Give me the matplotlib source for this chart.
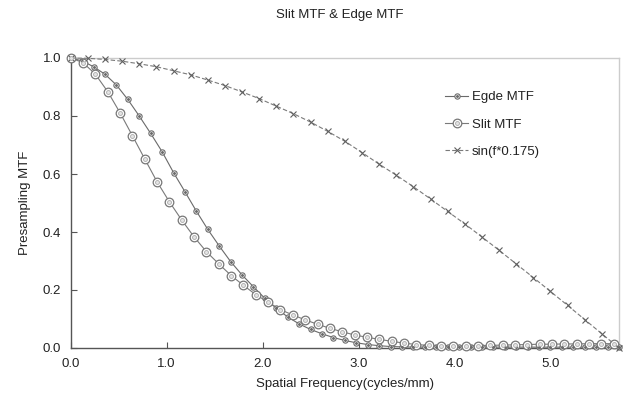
import numpy as np
import matplotlib
matplotlib.use("Agg")
import matplotlib.pyplot as plt
from matplotlib.legend_handler import HandlerTuple

plt.rcParams['font.family'] = ['Liberation Sans', 'DejaVu Sans']

# ---- data ----
f_max = 5.714
edge_f = np.linspace(0, f_max, 49)
edge_mtf = [1.000, 0.990, 0.970, 0.944, 0.907, 0.857, 0.800, 0.740, 0.677, 0.605,
            0.539, 0.472, 0.409, 0.352, 0.298, 0.252, 0.211, 0.171, 0.137, 0.107,
            0.083, 0.064, 0.049, 0.036, 0.026, 0.018, 0.012, 0.008, 0.005, 0.004,
            0.003, 0.003, 0.003, 0.003, 0.003, 0.003, 0.003, 0.003, 0.003, 0.003,
            0.003, 0.003, 0.003, 0.003, 0.003, 0.003, 0.003, 0.003, 0.003]

slit_f = np.arange(45) * 0.1286
slit_mtf = [1.000, 0.984, 0.944, 0.884, 0.811, 0.732, 0.652, 0.573, 0.504, 0.441,
            0.383, 0.332, 0.290, 0.250, 0.216, 0.184, 0.158, 0.132, 0.114, 0.097,
            0.082, 0.068, 0.056, 0.045, 0.037, 0.030, 0.023, 0.017, 0.012, 0.009,
            0.007, 0.006, 0.007, 0.008, 0.009, 0.010, 0.011, 0.012, 0.013, 0.013,
            0.014, 0.014, 0.015, 0.015, 0.015]

sinc_f = np.linspace(0, f_max, 33)
sinc_mtf = [1.000, 0.999, 0.995, 0.989, 0.980, 0.970, 0.956, 0.942, 0.924, 0.905,
            0.883, 0.860, 0.834, 0.808, 0.779, 0.747, 0.713, 0.674, 0.634, 0.596,
            0.556, 0.514, 0.471, 0.428, 0.383, 0.337, 0.290, 0.243, 0.195, 0.147,
            0.098, 0.049, 0.000]

x_ticks = [0.0, 1.0, 2.0, 3.0, 4.0, 5.0]
y_ticks = [0.0, 0.2, 0.4, 0.6, 0.8, 1.0]

title = "Slit MTF & Edge MTF"
xlabel = "Spatial Frequency(cycles/mm)"
ylabel = "Presampling MTF"
labels = ["Egde MTF", "Slit MTF", "sin(f*0.175)"]

# ---- figure ----
W, H = 627, 403
fig = plt.figure(figsize=(W / 100, H / 100), dpi=100)
ax = fig.add_axes([70.7 / W, 1 - 348 / H, (619 - 70.7) / W, (348 - 58) / H])

gray = '#7a7a7a'
l_edge, = ax.plot(edge_f, edge_mtf, color='#6a6a6a', lw=0.8, marker='o', ms=3.8,
                  mfc='white', mec='#6a6a6a', mew=0.8, clip_on=False, zorder=3)
d_edge, = ax.plot(edge_f, edge_mtf, ls='none', marker='o', ms=1.1, mfc='#6a6a6a',
                  mec='#6a6a6a', clip_on=False, zorder=4)
l_slit, = ax.plot(slit_f, slit_mtf, color=gray, lw=0.8, marker='o', ms=6.2,
                  mfc='white', mec='#777777', mew=0.9, clip_on=False, zorder=3)
d_slit, = ax.plot(slit_f, slit_mtf, ls='none', marker='o', ms=2.8, mfc='#e4e4e4',
                  mec='#aaaaaa', mew=0.6, clip_on=False, zorder=4)
l_sinc, = ax.plot(sinc_f, sinc_mtf, color=gray, lw=0.8, ls=(0, (4, 2)), marker='x', ms=4.5,
                  mec='#606060', mew=0.8, clip_on=False, zorder=3)

ax.set_xlim(0, f_max)
ax.set_ylim(0, 1.0)
ax.set_xticks(x_ticks)
ax.set_yticks(y_ticks)
ax.set_xticklabels([f"{v:.1f}" for v in x_ticks])
ax.set_yticklabels([f"{v:.1f}" for v in y_ticks])
ax.tick_params(direction='in', length=4, width=0.8, colors='#555555',
               labelcolor='#222222', labelsize=9.5, pad=7)

for s in ['left', 'bottom']:
    ax.spines[s].set_color('#555555')
    ax.spines[s].set_linewidth(1.0)
for s in ['top', 'right']:
    ax.spines[s].set_color('#cccccc')
    ax.spines[s].set_linewidth(1.0)

ax.set_xlabel(xlabel, fontsize=9.5, color='#222222', labelpad=6)
ax.set_ylabel(ylabel, fontsize=9.5, color='#222222', labelpad=8)
fig.text(340 / W, 1 - 15 / H, title, ha='center', va='center', fontsize=9.5, color='#222222')

leg = ax.legend([(l_edge, d_edge), (l_slit, d_slit), l_sinc], labels,
                handler_map={tuple: HandlerTuple(ndivide=1)},
                loc='upper left', bbox_to_anchor=(0.683, 0.886), frameon=False,
                fontsize=9.5, handlelength=1.75, handletextpad=0.25, labelspacing=1.15,
                borderpad=0, borderaxespad=0, numpoints=1)
for t in leg.get_texts():
    t.set_color('#222222')

fig.savefig('out.png', dpi=100)
